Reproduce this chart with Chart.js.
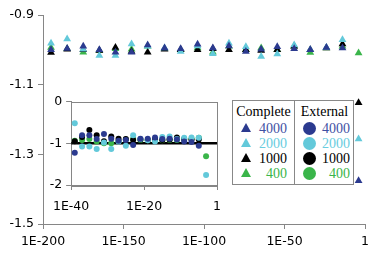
<!DOCTYPE html>
<html>
<head>
<meta charset="utf-8">
<script src="https://cdn.jsdelivr.net/npm/chart.js@4.4.1/dist/chart.umd.min.js"></script>
<style>
  html, body { margin: 0; padding: 0; background: #fff; }
  #wrap { position: relative; width: 374px; height: 255px; overflow: hidden; }
  #main { position: absolute; left: 0; top: 0; }
  #inset { position: absolute; left: 44px; top: 90px; }
  #legend {
    position: absolute; left: 232px; top: 100px; width: 120px; height: 83px;
    border: 1px solid #888; background: #fff;
    font-family: 'Liberation Serif', 'Times New Roman', serif; font-size: 14px;
  }
  #legend .col { position: absolute; top: 0; height: 83px; }
  #legend .head { position: absolute; left: 0; right: 0; top: 2px; text-align: center; line-height: 18px; }
  #legend .row { position: absolute; left: 0; right: 0; height: 15px; line-height: 15px; }
  #legend .num { position: absolute; text-align: right; }
  #legend .tri { position: absolute; width: 0; height: 0; top: 2px;
    border-left: 5px solid transparent; border-right: 5px solid transparent; border-bottom-width: 9px; border-bottom-style: solid; }
  #legend .dot { position: absolute; width: 13px; height: 13px; top: 1px; border-radius: 50%; }
</style>
</head>
<body>
<div id="wrap">
  <canvas id="main" width="374" height="255"></canvas>
  <canvas id="inset" width="186" height="128"></canvas>
  <div id="legend"></div>
</div>
<script>
// ---- main chart: x is the exponent (log10), y the value ----
const mainX = [-195, -185, -175, -165, -155, -145, -135, -124.5, -114.5, -104,
               -94.5, -84.5, -74, -64.5, -54.5, -44, -34, -24, -14, -4];
const main4000 = [-1.0, -0.996, -0.990, -1.0, -1.007, -1.007, -0.986, -0.995, -0.997, -0.984,
                  -0.995, -0.989, -1.005, -0.998, -0.991, -0.997, -1.0, -0.993, -0.995, -1.376];
const main2000 = [-0.981, -0.969, -0.998, -1.016, -1.016, -0.983, -0.990, -0.995, -1.005, -0.989,
                  -1.011, -0.981, -0.991, -1.019, -1.012, -0.986, -1.0, -0.993, -0.971, -1.256];
const main1000 = [-1.008, -0.998, -1.0, -1.002, -0.993, -1.005, -1.007, -0.998, -1.0, -1.0,
                  -0.997, -1.0, -1.0, -1.002, -1.0, -0.990, -1.0, -0.995, -0.983, -1.152];
const main400  = [-0.993, -0.997, -1.007, -1.002, -0.997, -0.998, -0.990, -0.997, -1.0, -0.995,
                  -1.007, -0.990, -1.0, -0.995, -1.0, -0.990, -1.008, -0.995, -0.990, -1.009];
const mainXTicks = [-200, -150, -100, -50, 0];
const mainXLabels = ['1E-200', '1E-150', '1E-100', '1E-50', '1'];
const mainYTicks = [-0.9, -1.1, -1.3, -1.5];
const mainYLabels = ['-0.9', '-1.1', '-1.3', '-1.5'];

// ---- inset chart ----
const insetX = [-39, -37, -35, -33, -31, -29, -27, -25, -23, -21,
                -19, -17, -15, -13, -11, -9, -7, -5, -3];
const inset4000 = [-1.23, -0.81, -0.81, -0.90, -0.78, -0.89, -0.94, -0.92, -1.04, -0.89,
                   -0.89, -0.86, -0.90, -0.89, -0.91, -0.96, -0.97, -1.06, null];
const inset2000 = [-0.52, -1.08, -1.08, -1.14, -0.98, -1.14, -0.96, -1.06, -0.81, -0.90,
                   -0.93, -0.96, -0.85, -0.84, -0.90, -0.87, -0.86, -0.87, -1.76];
const inset1000 = [-0.95, -0.85, -0.68, -0.81, -0.95, -0.84, -0.89, -0.90, -0.92, -0.91,
                   -0.92, -0.91, -0.92, -0.91, -0.86, -0.90, -0.91, -0.91, null];
const inset400  = [-0.94, -0.92, -0.90, -0.96, -1.0, -1.0, -0.95, -0.91, -0.90, -0.92,
                   -0.93, -0.92, -0.93, -0.92, -0.92, -0.91, -0.90, -0.87, -1.31];
const refLineX = [-40, 0];
const refLineY = [-1, -1];
const insetXTicks = [-40, -20, 0];
const insetXLabels = ['1E-40', '1E-20', '1'];
const insetYTicks = [0, -1, -2];
const insetYLabels = ['0', '-1', '-2'];

const seriesNames = ['4000', '2000', '1000', '400'];
const markerColors = ['#2B3A8F', '#63C9DA', '#000000', '#3AB54A'];
const textColors = ['#3F51A3', '#69CDE0', '#000000', '#3AB54A'];

const pts = (xs, ys) => xs.map((x, i) => ys[i] == null ? null : { x, y: ys[i] }).filter(Boolean);
const tickFont = { family: "'DejaVu Sans', Verdana, sans-serif", size: 12.5 };
const axisGray = '#868686';

function axis(min, max, tickVals, tickLabels, fit, pad) {
  return {
    type: 'linear', min, max,
    afterBuildTicks: ax => { ax.ticks = tickVals.map(v => ({ value: v })); },
    afterFit: fit,
    ticks: { callback: (v, i) => tickLabels[i], font: tickFont, color: '#000', maxRotation: 0, padding: pad },
    grid: { drawOnChartArea: false, drawTicks: true, tickLength: 5, color: axisGray },
    border: { display: true, color: axisGray, width: 1 }
  };
}

const common = {
  responsive: false, animation: false, events: [],
  plugins: { legend: { display: false }, tooltip: { enabled: false } }
};

new Chart(document.getElementById('main'), {
  type: 'scatter',
  data: {
    datasets: [main4000, main2000, main1000, main400].map((ys, k) => ({
      data: pts(mainX, ys), pointStyle: 'triangle', pointRadius: 4.5,
      backgroundColor: markerColors[k], borderColor: markerColors[k], borderWidth: 0
    }))
  },
  options: {
    ...common,
    layout: { padding: { top: 15, right: 7, left: 0, bottom: 0 } },
    scales: {
      x: axis(-200, 0, mainXTicks, mainXLabels, s => { s.height = 31; }, 5),
      y: axis(-1.5, -0.9, mainYTicks, mainYLabels, s => { s.width = 43; }, 4)
    }
  }
});

const boxPlugin = {
  id: 'box',
  beforeDatasetsDraw(chart) {
    const a = chart.chartArea, c = chart.ctx;
    c.save();
    c.strokeStyle = axisGray; c.lineWidth = 1;
    c.strokeRect(Math.round(a.left) + 0.5, Math.round(a.top) + 0.5,
                 Math.round(a.right - a.left), Math.round(a.bottom - a.top));
    c.restore();
  }
};

new Chart(document.getElementById('inset'), {
  type: 'scatter',
  data: {
    datasets: [inset4000, inset2000, inset1000, inset400].map((ys, k) => ({
      data: pts(insetX, ys), pointStyle: 'circle', pointRadius: 3,
      backgroundColor: markerColors[k], borderColor: markerColors[k], borderWidth: 0
    })).concat([{
      type: 'line', data: pts(refLineX, refLineY), borderColor: '#000', borderWidth: 2.5,
      pointRadius: 0, showLine: true
    }])
  },
  options: {
    ...common,
    layout: { padding: { top: 10, right: 4, left: 0, bottom: 0 } },
    scales: {
      x: axis(-40, 0, insetXTicks, insetXLabels, s => { s.height = 33; }, 9),
      y: axis(-2, 0, insetYTicks, insetYLabels, s => { s.width = 26; }, 4)
    }
  },
  plugins: [boxPlugin]
});

// ---- legend (two columns: Complete = triangles, External = circles) ----
const legend = document.getElementById('legend');
const cols = [
  { title: 'Complete', left: 0, width: 61, marker: 'tri', mLeft: 8, numRight: 7 },
  { title: 'External', left: 61, width: 59, marker: 'dot', mLeft: 8, numRight: 4 }
];
cols.forEach((c, ci) => {
  const col = document.createElement('div');
  col.className = 'col';
  col.style.left = c.left + 'px';
  col.style.width = c.width + 'px';
  if (ci === 1) col.style.borderLeft = '1px solid #888';
  const h = document.createElement('div');
  h.className = 'head'; h.textContent = c.title;
  col.appendChild(h);
  seriesNames.forEach((name, i) => {
    const row = document.createElement('div');
    row.className = 'row';
    row.style.top = (20 + i * 15) + 'px';
    const m = document.createElement('div');
    m.className = c.marker;
    m.style.left = c.mLeft + 'px';
    if (c.marker === 'tri') m.style.borderBottomColor = markerColors[i];
    else m.style.background = markerColors[i];
    const n = document.createElement('span');
    n.className = 'num'; n.textContent = name;
    n.style.right = c.numRight + 'px';
    n.style.color = textColors[i];
    row.appendChild(m); row.appendChild(n);
    col.appendChild(row);
  });
  legend.appendChild(col);
});
</script>
</body>
</html>
